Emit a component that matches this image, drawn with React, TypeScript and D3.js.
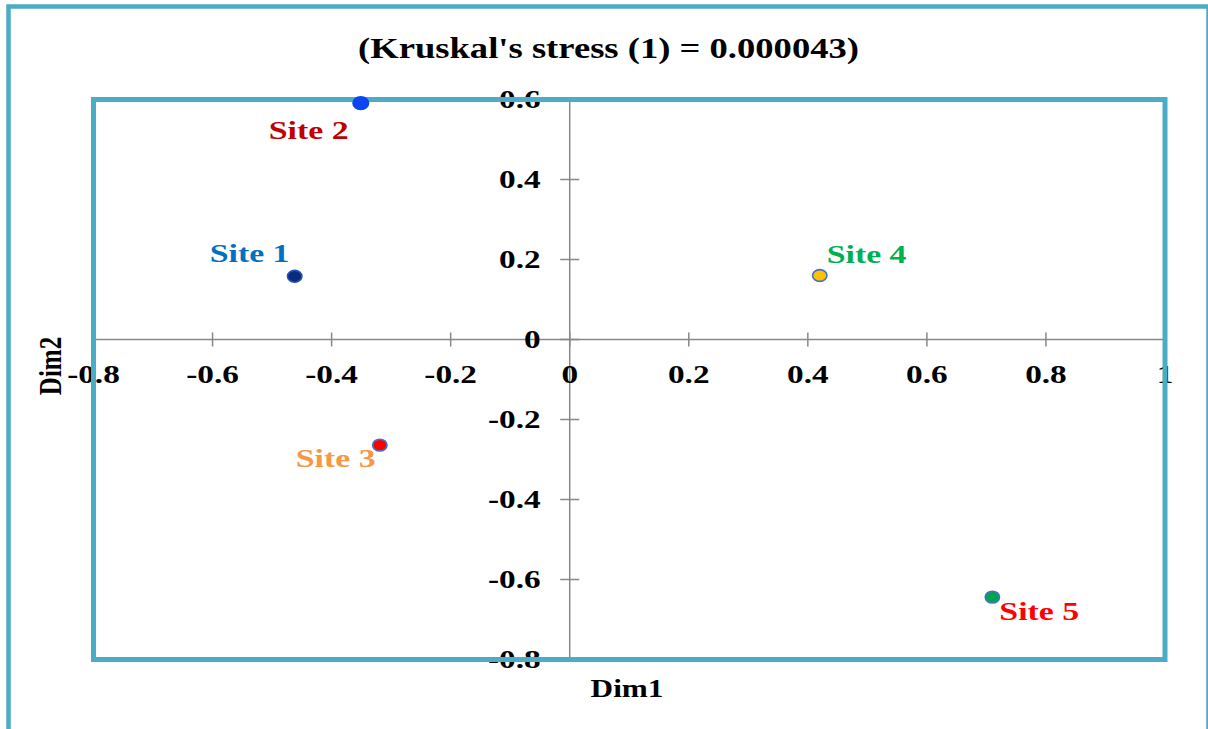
import React from "react";
import * as d3 from "d3";

// MDS configuration of five sites
const siteNames = ["Site 1", "Site 2", "Site 3", "Site 4", "Site 5"];
const dim1 = [-0.462, -0.351, -0.319, 0.42, 0.71];
const dim2 = [0.158, 0.591, -0.264, 0.16, -0.644];

const xTicks = [-0.8, -0.6, -0.4, -0.2, 0, 0.2, 0.4, 0.6, 0.8, 1];
const yTicks = [-0.8, -0.6, -0.4, -0.2, 0, 0.2, 0.4, 0.6];

const title = "(Kruskal's stress (1) = 0.000043)";

// marker + label styling
const markerFill = ["#0b2a7c", "#0a45f0", "#ff0000", "#ffc000", "#00a550"];
const markerStroke = ["#2350b8", "#0a45f0", "#4472c4", "#4472c4", "#4472c4"];
const labelColor = ["#0070c0", "#c00000", "#f79646", "#00b050", "#ff0000"];
const labelOffset = [
  [-85, -14],
  [-92, 36],
  [-84, 22],
  [7, -13],
  [7, 23],
];

const BORDER = "#4bacc6";
const SX = 1.28; // the source picture is stretched horizontally

function fmt(v: number) {
  if (v === 0) return "0";
  if (v === 1) return "1";
  return d3.format(".1f")(v).replace("\u2212", "-");
}

export default function App() {
  const width = 1208;
  const height = 729;

  const x = d3.scaleLinear().domain([-0.8, 1]).range([93.5, 1165]);
  const y = d3.scaleLinear().domain([-0.8, 0.6]).range([659.5, 99.5]);

  const font = "'Liberation Serif', 'Times New Roman', serif";

  const stretched = (tx: number, ty: number, s = SX) =>
    `translate(${tx},${ty}) scale(${s},1)`;

  return (
    <svg
      width={width}
      height={height}
      style={{ position: "absolute", left: 0, top: 0, background: "#fff" }}
      fontFamily={font}
      fontWeight="bold"
    >
      {/* Outer frame */}
      <rect x={8.5} y={6.5} width={1200} height={800} fill="#fff" stroke={BORDER} strokeWidth={4.5} />

      {/* Title */}
      <text transform={stretched(608.5, 58, 1.22)} textAnchor="middle" fontSize={30} fill="#000">
        {title}
      </text>

      {/* Axis lines */}
      <line x1={x(-0.8)} x2={x(1)} y1={y(0)} y2={y(0)} stroke="#888" strokeWidth={1.5} />
      <line x1={x(0)} x2={x(0)} y1={y(0.6)} y2={y(-0.8)} stroke="#888" strokeWidth={1.5} />

      {/* Tick marks */}
      {xTicks.map((t) => (
        <line key={"xt" + t} x1={x(t)} x2={x(t)} y1={y(0) - 7} y2={y(0) + 7} stroke="#888" strokeWidth={1.5} />
      ))}
      {yTicks.map((t) => (
        <line key={"yt" + t} x1={x(0) - 9.5} x2={x(0) + 9.5} y1={y(t)} y2={y(t)} stroke="#888" strokeWidth={1.5} />
      ))}

      {/* Tick labels */}
      {xTicks.map((t) => (
        <text key={"xl" + t} transform={stretched(x(t), y(0) + 43)} textAnchor="middle" fontSize={26} fill="#000">
          {fmt(t)}
        </text>
      ))}
      {yTicks.map((t) => (
        <text key={"yl" + t} transform={stretched(x(0) - 29, y(t) + 8.5)} textAnchor="end" fontSize={26} fill="#000">
          {fmt(t)}
        </text>
      ))}

      {/* Plot-area border */}
      <rect
        x={x(-0.8)}
        y={y(0.6)}
        width={x(1) - x(-0.8)}
        height={y(-0.8) - y(0.6)}
        fill="none"
        stroke={BORDER}
        strokeWidth={5}
      />

      {/* Axis titles */}
      <text transform={stretched(627, 697, 1.25)} textAnchor="middle" fontSize={25} fill="#000">
        Dim1
      </text>
      <text
        transform={`translate(61,366) rotate(-90) scale(1,1.25)`}
        textAnchor="middle"
        fontSize={25}
        fill="#000"
      >
        Dim2
      </text>

      {/* Points */}
      {siteNames.map((s, i) => (
        <ellipse
          key={"p" + s}
          cx={x(dim1[i])}
          cy={y(dim2[i])}
          rx={i === 1 ? 7.8 : 7.2}
          ry={i === 1 ? 6.4 : 5.9}
          fill={markerFill[i]}
          stroke={markerStroke[i]}
          strokeWidth={1.6}
        />
      ))}

      {/* Point labels */}
      {siteNames.map((s, i) => (
        <text
          key={"l" + s}
          transform={stretched(x(dim1[i]) + labelOffset[i][0], y(dim2[i]) + labelOffset[i][1], 1.3)}
          fontSize={26}
          fill={labelColor[i]}
        >
          {s}
        </text>
      ))}
    </svg>
  );
}
